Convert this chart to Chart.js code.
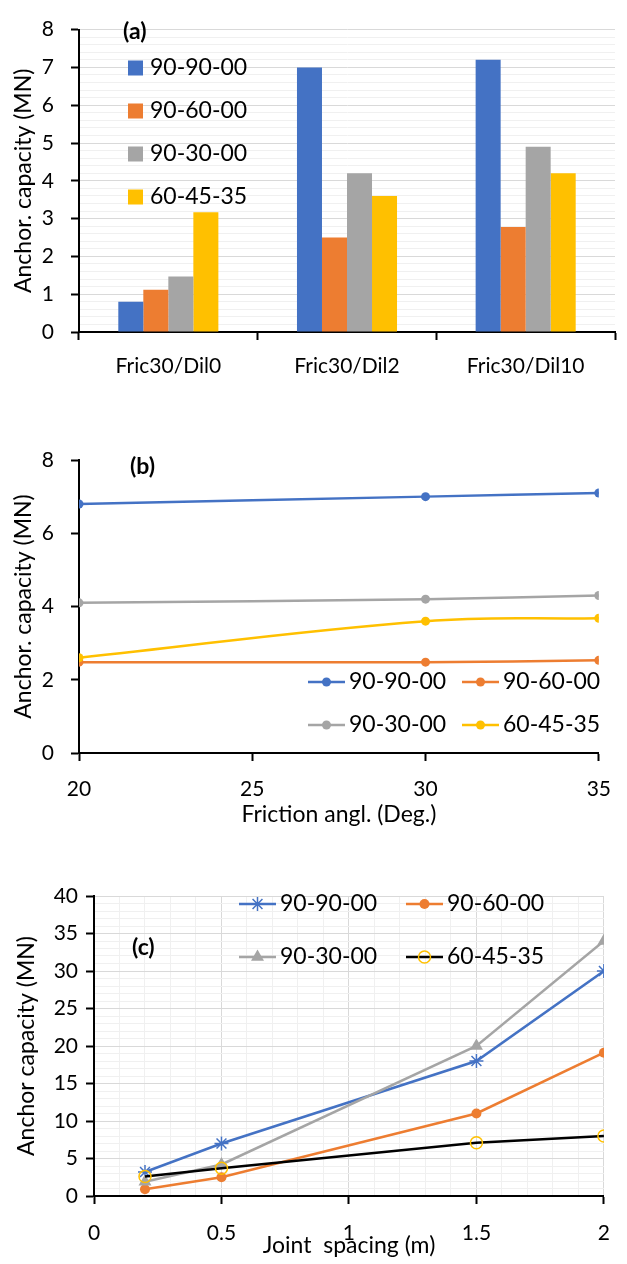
<!DOCTYPE html>
<html>
<head>
<meta charset="utf-8">
<script src="https://cdn.jsdelivr.net/npm/chart.js@4.4.1/dist/chart.umd.min.js"></script>
<style>
    body { margin: 0; background: #fff; width: 627px; height: 1264px; position: relative; overflow: hidden; }
    canvas { position: absolute; left: 0; }
    #chartA { top: 0; }
    #chartB { top: 400px; }
    #chartC { top: 850px; }
</style>
</head>
<body>
<canvas id="chartA" width="627" height="390" style="width:627px;height:390px"></canvas>
<canvas id="chartB" width="627" height="430" style="width:627px;height:430px"></canvas>
<canvas id="chartC" width="627" height="414" style="width:627px;height:414px"></canvas>
<script>
// Anchor capacity charts: (a) dilation cases, (b) friction angle, (c) joint spacing

const seriesLabels = ['90-90-00', '90-60-00', '90-30-00', '60-45-35'];

// (a) friction / dilation cases
const caseLabels = ['Fric30/Dil0', 'Fric30/Dil2', 'Fric30/Dil10'];
const caseCap9090 = [0.8, 7.0, 7.2];
const caseCap9060 = [1.12, 2.5, 2.78];
const caseCap9030 = [1.47, 4.2, 4.9];
const caseCap6045 = [3.17, 3.6, 4.2];
const capTicksA = [0, 1, 2, 3, 4, 5, 6, 7, 8];

// (b) friction angle
const frictionAngles = [20, 30, 35];
const fricCap9090 = [6.8, 7.0, 7.1];
const fricCap9060 = [2.48, 2.48, 2.53];
const fricCap9030 = [4.1, 4.2, 4.3];
const fricCap6045 = [2.6, 3.6, 3.68];
const angleTicks = [20, 25, 30, 35];
const capTicksB = [0, 2, 4, 6, 8];

// (c) joint spacing
const jointSpacing = [0.2, 0.5, 1.5, 2];
const jointCap9090 = [3.2, 7, 18, 30];
const jointCap9060 = [0.9, 2.5, 11, 19.1];
const jointCap9030 = [1.9, 4.2, 20, 34];
const jointCap6045 = [2.6, 3.7, 7.1, 8.0];
const spacingTicks = [0, 0.5, 1, 1.5, 2];
const capTicksC = [0, 5, 10, 15, 20, 25, 30, 35, 40];

const colors = {
    blue: '#4472c4',
    orange: '#ed7d31',
    gray: '#a5a5a5',
    yellow: '#ffc000',
    black: '#000000',
    gridMajor: '#d9d9d9',
    gridMinor: '#f0f0f0'
};

const FONT = 'Lato';
Chart.defaults.font.family = FONT;
Chart.defaults.color = '#000';

// major ticks plus evenly spaced minor ones between them
function withMinor(majors, parts) {
    const out = [];
    for (let i = 0; i < majors.length; i++) {
        out.push({ value: majors[i] });
        if (i < majors.length - 1) {
            for (let k = 1; k < parts; k++) {
                out.push({ value: majors[i] + (majors[i + 1] - majors[i]) * k / parts });
            }
        }
    }
    return out;
}

function isMajor(majors, v) {
    return majors.some(m => Math.abs(m - v) < 1e-9);
}

function pairs(xs, ys) {
    return xs.map((x, i) => ({ x: x, y: ys[i] }));
}

function drawMarker(ctx, style, x, y, r, fill, stroke, lw) {
    ctx.save();
    ctx.lineWidth = lw;
    ctx.strokeStyle = stroke;
    ctx.fillStyle = fill;
    ctx.beginPath();
    if (style === 'triangle') {
        ctx.moveTo(x, y - r);
        ctx.lineTo(x + r * 0.866, y + r * 0.5);
        ctx.lineTo(x - r * 0.866, y + r * 0.5);
        ctx.closePath();
        ctx.fill();
    } else if (style === 'star') {
        for (let a = 0; a < 4; a++) {
            const ang = a * Math.PI / 4;
            ctx.moveTo(x - Math.cos(ang) * r, y - Math.sin(ang) * r);
            ctx.lineTo(x + Math.cos(ang) * r, y + Math.sin(ang) * r);
        }
        ctx.stroke();
    } else {
        ctx.arc(x, y, r, 0, Math.PI * 2);
        if (fill && fill !== 'transparent') ctx.fill();
        if (lw > 0) ctx.stroke();
    }
    ctx.restore();
}

// Panel letter and in-plot legend
const panelDecor = {
    id: 'panelDecor',
    afterDatasetsDraw(chart, args, opts) {
        const ctx = chart.ctx;
        ctx.save();
        ctx.textBaseline = 'middle';
        ctx.textAlign = 'left';
        ctx.fillStyle = '#000';
        if (opts.letter) {
            ctx.font = 'bold 23px ' + FONT;
            ctx.fillText(opts.letter, opts.letterX, opts.letterY);
        }
        ctx.font = '23px ' + FONT;
        (opts.items || []).forEach((it, i) => {
            const ds = chart.data.datasets[i];
            let textX;
            if (opts.kind === 'box') {
                ctx.fillStyle = ds.backgroundColor;
                ctx.fillRect(it.x, it.y - 7.5, 15, 15);
                textX = it.x + 22;
            } else {
                ctx.strokeStyle = ds.borderColor;
                ctx.lineWidth = ds.borderWidth;
                ctx.beginPath();
                ctx.moveTo(it.x, it.y);
                ctx.lineTo(it.x + 37, it.y);
                ctx.stroke();
                drawMarker(ctx, ds.pointStyle, it.x + 18.5, it.y, ds.pointRadius,
                    ds.pointBackgroundColor, ds.pointBorderColor, ds.pointBorderWidth);
                textX = it.x + 41;
            }
            ctx.fillStyle = '#000';
            ctx.fillText(ds.label, textX, it.y);
        });
        ctx.restore();
    }
};

const tickFont = { size: 21 };
const titleFont = { size: 23 };

// (a) bar chart
new Chart(document.getElementById('chartA'), {
    type: 'bar',
    data: {
        labels: caseLabels,
        datasets: [
            { label: seriesLabels[0], data: caseCap9090, backgroundColor: colors.blue },
            { label: seriesLabels[1], data: caseCap9060, backgroundColor: colors.orange },
            { label: seriesLabels[2], data: caseCap9030, backgroundColor: colors.gray },
            { label: seriesLabels[3], data: caseCap6045, backgroundColor: colors.yellow }
        ]
    },
    options: {
        responsive: false,
        animation: false,
        layout: { padding: { left: 0, top: 21, right: 12, bottom: 0 } },
        datasets: { bar: { categoryPercentage: 0.56, barPercentage: 1 } },
        plugins: {
            legend: { display: false },
            tooltip: { enabled: false },
            panelDecor: {
                letter: '(a)', letterX: 123, letterY: 32,
                kind: 'box',
                items: [{ x: 128, y: 68 }, { x: 128, y: 111 }, { x: 128, y: 154 }, { x: 128, y: 197 }]
            }
        },
        scales: {
            x: {
                afterFit: s => { s.height = 58; },
                grid: { drawOnChartArea: false, offset: true, tickLength: 8, tickColor: '#000', tickWidth: 2 },
                border: { color: '#000', width: 2 },
                ticks: { font: tickFont, padding: 14 }
            },
            y: {
                min: 0, max: 8,
                afterFit: s => { s.width = 79; },
                afterBuildTicks: s => { s.ticks = withMinor(capTicksA, 5); },
                grid: {
                    tickLength: 8,
                    tickWidth: 2,
                    color: c => isMajor(capTicksA, c.tick.value) ? colors.gridMajor : colors.gridMinor,
                    tickColor: c => isMajor(capTicksA, c.tick.value) ? '#000' : 'rgba(0,0,0,0)'
                },
                border: { color: '#000', width: 2 },
                ticks: {
                    autoSkip: false, font: tickFont, padding: 17,
                    callback: v => isMajor(capTicksA, v) ? String(v) : ''
                },
                title: { display: true, text: 'Anchor. capacity (MN)', font: titleFont, padding: { top: 10, bottom: 0 } }
            }
        }
    },
    plugins: [panelDecor]
});

// (b) smoothed lines vs friction angle
function fricSeries(i, ys, color) {
    return {
        label: seriesLabels[i], data: pairs(frictionAngles, ys),
        borderColor: color, backgroundColor: color, borderWidth: 2.5,
        pointStyle: 'circle', pointRadius: 4.5, pointBackgroundColor: color,
        pointBorderColor: color, pointBorderWidth: 0, tension: 0.4,
        order: 3 - i
    };
}

new Chart(document.getElementById('chartB'), {
    type: 'line',
    data: {
        datasets: [
            fricSeries(0, fricCap9090, colors.blue),
            fricSeries(1, fricCap9060, colors.orange),
            fricSeries(2, fricCap9030, colors.gray),
            fricSeries(3, fricCap6045, colors.yellow)
        ]
    },
    options: {
        responsive: false,
        animation: false,
        layout: { padding: { left: 0, top: 60, right: 19, bottom: 0 } },
        plugins: {
            legend: { display: false },
            tooltip: { enabled: false },
            panelDecor: {
                letter: '(b)', letterX: 130, letterY: 67,
                kind: 'line',
                items: [{ x: 308, y: 282 }, { x: 462, y: 282 }, { x: 308, y: 325 }, { x: 462, y: 325 }]
            }
        },
        scales: {
            x: {
                type: 'linear', min: 20, max: 35,
                afterFit: s => { s.height = 77; },
                afterBuildTicks: s => { s.ticks = angleTicks.map(v => ({ value: v })); },
                grid: { drawOnChartArea: false, tickLength: 8, tickColor: '#000', tickWidth: 2 },
                border: { color: '#000', width: 2 },
                ticks: { font: tickFont, padding: 16, autoSkip: false },
                title: { display: true, text: 'Friction angl. (Deg.)', font: titleFont, padding: { top: 0, bottom: 2 } }
            },
            y: {
                min: 0, max: 8,
                afterFit: s => { s.width = 79; },
                afterBuildTicks: s => { s.ticks = capTicksB.map(v => ({ value: v })); },
                grid: { drawOnChartArea: false, tickLength: 8, tickColor: '#000', tickWidth: 2 },
                border: { color: '#000', width: 2 },
                ticks: { font: tickFont, padding: 17, autoSkip: false },
                title: { display: true, text: 'Anchor. capacity (MN)', font: titleFont, padding: { top: 10, bottom: 0 } }
            }
        }
    },
    plugins: [panelDecor]
});

// (c) straight lines vs joint spacing
function jointSeries(i, ys, line, marker, style, radius, hollow) {
    return {
        label: seriesLabels[i], data: pairs(jointSpacing, ys),
        borderColor: line, backgroundColor: line, borderWidth: 2.5,
        pointStyle: style, pointRadius: radius,
        pointBackgroundColor: hollow ? 'transparent' : marker,
        pointBorderColor: marker, pointBorderWidth: hollow || style === 'star' ? 1.5 : 0,
        tension: 0, order: 3 - i
    };
}

new Chart(document.getElementById('chartC'), {
    type: 'line',
    data: {
        datasets: [
            jointSeries(0, jointCap9090, colors.blue, colors.blue, 'star', 7, false),
            jointSeries(1, jointCap9060, colors.orange, colors.orange, 'circle', 5, false),
            jointSeries(2, jointCap9030, colors.gray, colors.gray, 'triangle', 7.5, false),
            jointSeries(3, jointCap6045, colors.black, colors.yellow, 'circle', 6, true)
        ]
    },
    options: {
        responsive: false,
        animation: false,
        layout: { padding: { left: 0, top: 46, right: 7, bottom: 0 } },
        plugins: {
            legend: { display: false },
            tooltip: { enabled: false },
            panelDecor: {
                letter: '(c)', letterX: 132, letterY: 98,
                kind: 'line',
                items: [{ x: 239, y: 54 }, { x: 406, y: 54 }, { x: 239, y: 107 }, { x: 406, y: 107 }]
            }
        },
        scales: {
            x: {
                type: 'linear', min: 0, max: 2,
                afterFit: s => { s.height = 68; },
                afterBuildTicks: s => { s.ticks = withMinor(spacingTicks, 5); },
                grid: {
                    tickLength: 8,
                    tickWidth: 2,
                    color: c => isMajor(spacingTicks, c.tick.value) ? colors.gridMajor : colors.gridMinor,
                    tickColor: c => isMajor(spacingTicks, c.tick.value) ? '#000' : 'rgba(0,0,0,0)'
                },
                border: { color: '#000', width: 2 },
                ticks: {
                    autoSkip: false, font: tickFont, padding: 17, maxRotation: 0,
                    callback: v => isMajor(spacingTicks, v) ? String(v) : ''
                },
                title: { display: true, text: 'Joint  spacing (m)', font: titleFont, padding: { top: 0, bottom: 5 } }
            },
            y: {
                min: 0, max: 40,
                afterFit: s => { s.width = 94; },
                afterBuildTicks: s => { s.ticks = withMinor(capTicksC, 5); },
                grid: {
                    tickLength: 8,
                    tickWidth: 2,
                    color: c => isMajor(capTicksC, c.tick.value) ? colors.gridMajor : colors.gridMinor,
                    tickColor: c => isMajor(capTicksC, c.tick.value) ? '#000' : 'rgba(0,0,0,0)'
                },
                border: { color: '#000', width: 2 },
                ticks: {
                    autoSkip: false, font: tickFont, padding: 8,
                    callback: v => isMajor(capTicksC, v) ? String(v) : ''
                },
                title: { display: true, text: 'Anchor capacity (MN)', font: titleFont, padding: { top: 13, bottom: 0 } }
            }
        }
    },
    plugins: [panelDecor]
});
</script>
</body>
</html>
